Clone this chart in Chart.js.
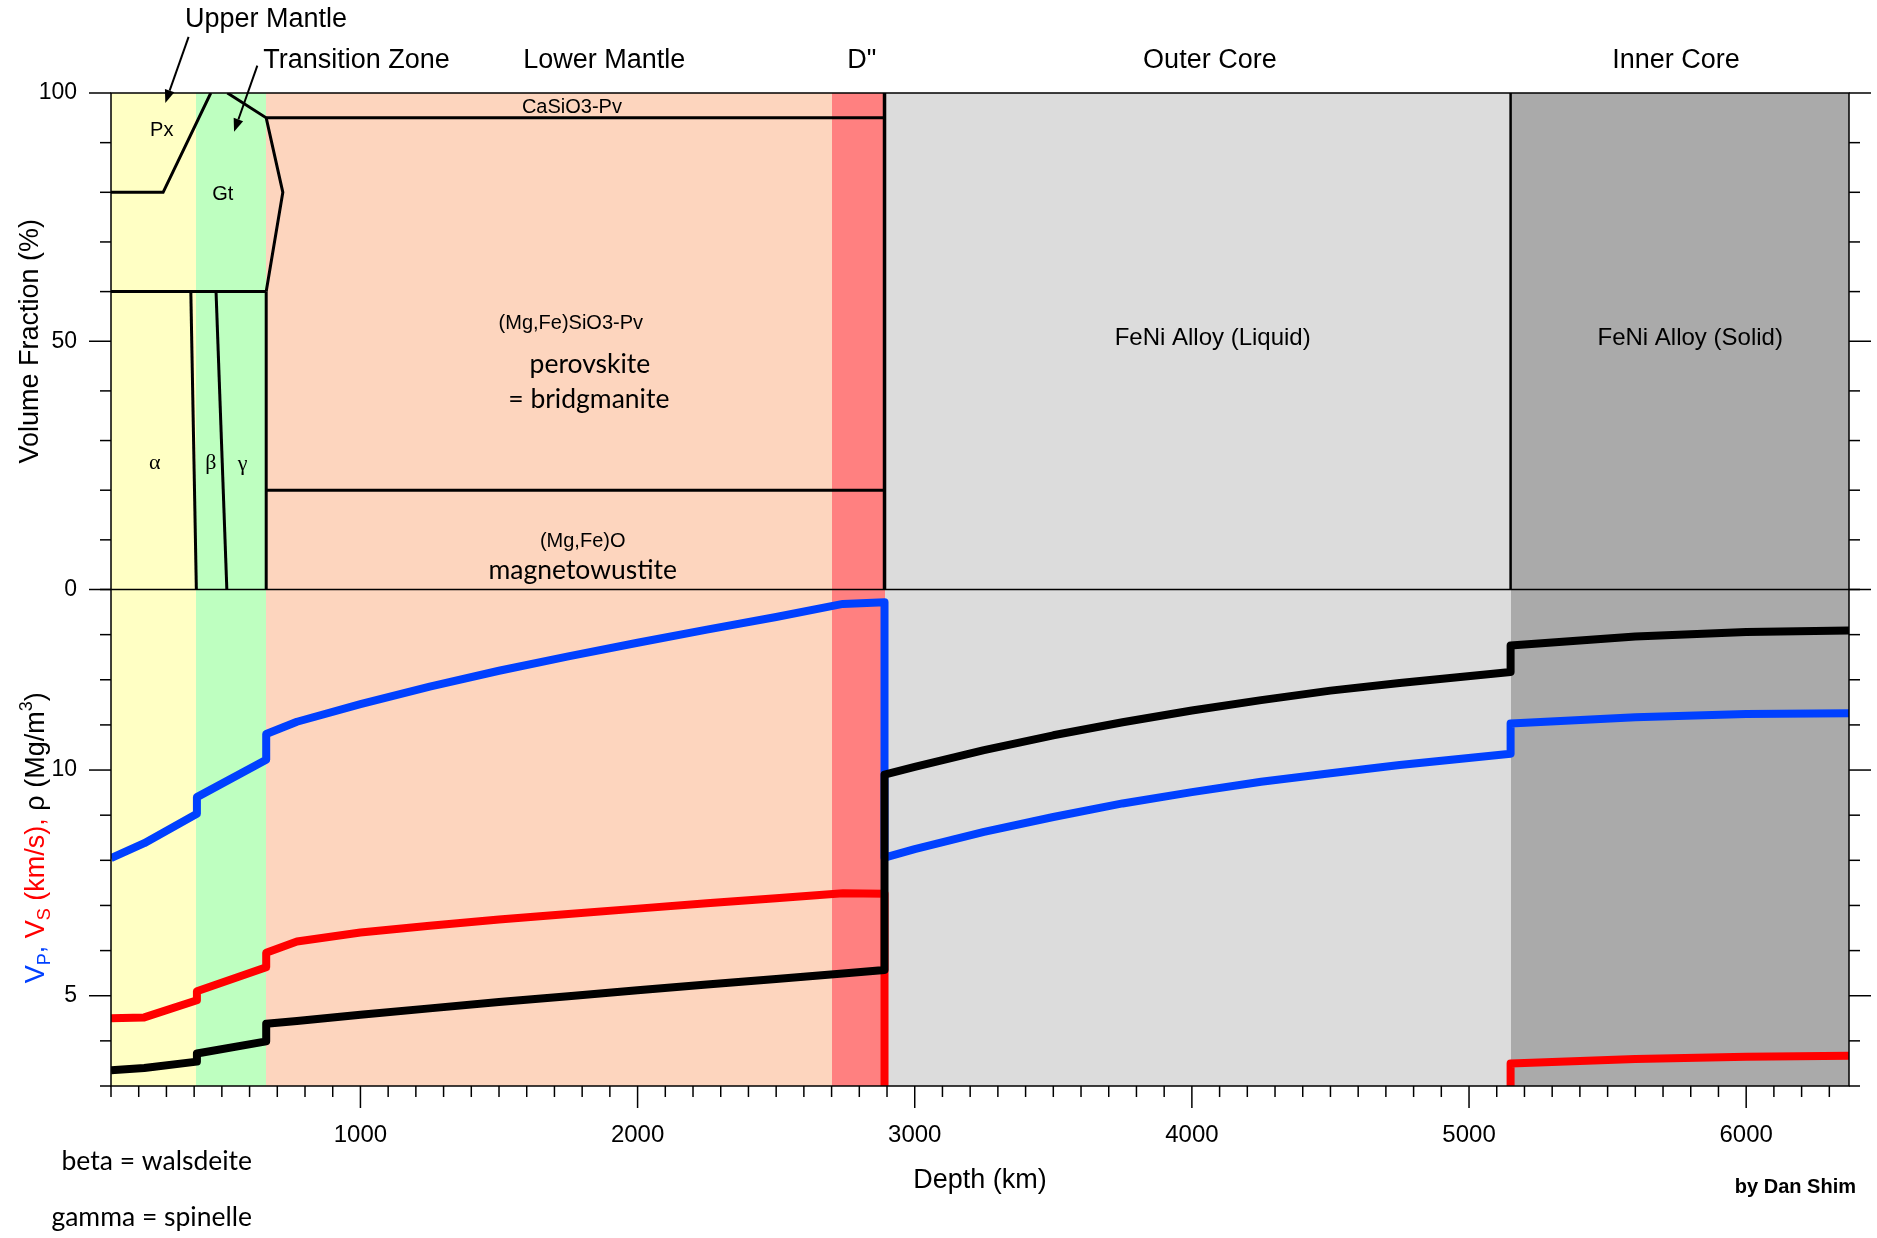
<!DOCTYPE html>
<html>
<head>
<meta charset="utf-8">
<title>Earth interior: mineralogy and seismic profile</title>
<script src="https://cdn.jsdelivr.net/npm/chart.js@4/dist/chart.umd.min.js"></script>
<style>
  html, body { margin: 0; padding: 0; background: #ffffff; }
  canvas { display: block; }
</style>
</head>
<body>
<canvas id="earth" width="1877" height="1238"></canvas>
<script>
// ---------------- data ----------------
// Seismic / density profile; repeated depths mark discontinuities.
const depthKm = [100, 220, 410, 410, 660, 660, 771, 1000, 1250, 1500,
                 1750, 2000, 2250, 2500, 2741, 2891, 2891, 3000, 3250, 3500,
                 3750, 4000, 4250, 4500, 4750, 5150, 5150, 5600, 6000, 6371];
const vpKms   = [8.05, 8.38, 9.03, 9.40, 10.23, 10.80, 11.07, 11.46, 11.85, 12.20,
                 12.52, 12.82, 13.11, 13.39, 13.68, 13.72, 8.06, 8.25, 8.63, 8.96,
                 9.26, 9.51, 9.74, 9.93, 10.11, 10.36, 11.03, 11.17, 11.24, 11.26];
const vsKms   = [4.50, 4.52, 4.90, 5.10, 5.63, 5.95, 6.20, 6.40, 6.55, 6.69,
                 6.81, 6.93, 7.05, 7.16, 7.27, 7.26, 0, 0, 0, 0,
                 0, 0, 0, 0, 0, 0, 3.50, 3.60, 3.65, 3.67];
const rhoMgm3 = [3.35, 3.40, 3.54, 3.72, 3.99, 4.38, 4.44, 4.58, 4.72, 4.86,
                 4.99, 5.12, 5.25, 5.37, 5.49, 5.57, 9.90, 10.07, 10.44, 10.77,
                 11.06, 11.32, 11.55, 11.76, 11.93, 12.17, 12.76, 12.96, 13.06, 13.09];

// Mineral phase boundaries (depth km, volume fraction %)
const pxDepth = [100, 288, 460];         const pxFrac = [80, 80, 100];
const gtDepth = [520, 660, 720, 660];    const gtFrac = [100, 95, 80, 60];
const caPvDepth = [660, 2891];           const caPvFrac = [95, 95];
const olBaseDepth = [100, 660];          const olBaseFrac = [60, 60];
const alphaBetaDepth = [388, 408];       const alphaBetaFrac = [60, 0];
const betaGammaDepth = [479, 518];       const betaGammaFrac = [60, 0];
const tzBaseDepth = [660, 660];          const tzBaseFrac = [60, 0];
const pvMwDepth = [660, 2891];           const pvMwFrac = [20, 20];
const cmbDepth = [2891, 2891];           const cmbFrac = [0, 100];
const icbDepth = [5150, 5150];           const icbFrac = [0, 100];

// Layers
const layerNames  = ['Upper Mantle', 'Transition Zone', 'Lower Mantle', 'D"', 'Outer Core', 'Inner Core'];
const layerTopKm  = [100, 405, 660, 2700, 2891, 5150];
const layerBaseKm = [405, 660, 2700, 2891, 5150, 6371];

// Axis ticks
const depthTicks = [1000, 2000, 3000, 4000, 5000, 6000];
const fractionTicks = [0, 50, 100];
const velocityTicks = [5, 10];
const depthMinorStep = 100, fractionMinorStep = 10, velocityMinorStep = 1;

// ---------------- styles ----------------
const SANS = "'Liberation Sans', Arial, Helvetica, sans-serif";
const HUMAN = "Lato, 'Open Sans', sans-serif";
const SERIF = "'Liberation Serif', 'DejaVu Serif', serif";
const style = {
  layerFill: ['#FFFFC4', '#BEFFC0', '#FDD5BE', '#FF8080', '#DCDCDC', '#AAAAAA'],
  vp: '#0040FF', vs: '#FF0000', rho: '#000000',
  curveWidth: 8, phaseWidth: 3, frameWidth: 1.5, majorTick: 22, minorTick: 11
};

// Text annotations placed in data units (depth km, volume fraction %)
const headingPos = [
  { depth: 659,  frac: 113.2 },
  { depth: 986,  frac: 105.0 },
  { depth: 1880, frac: 105.0 },
  { depth: 2809, frac: 105.0 },
  { depth: 4065, frac: 105.0 },
  { depth: 5747, frac: 105.0 }
];
const phaseLabels = [
  { text: 'Px', depth: 283, frac: 92.4, font: SANS, size: 20 },
  { text: 'Gt', depth: 503, frac: 79.5, font: SANS, size: 20 },
  { text: 'α', depth: 258, frac: 25.4, font: SERIF, size: 22 },
  { text: 'β', depth: 460, frac: 25.4, font: SERIF, size: 22 },
  { text: 'γ', depth: 575, frac: 25.2, font: SERIF, size: 22 },
  { text: 'CaSiO3-Pv', depth: 1763, frac: 97.0, font: SANS, size: 20 },
  { text: '(Mg,Fe)SiO3-Pv', depth: 1759, frac: 53.5, font: SANS, size: 20 },
  { text: 'perovskite', depth: 1828, frac: 45.3, font: HUMAN, size: 26.5 },
  { text: '= bridgmanite', depth: 1824, frac: 38.2, font: HUMAN, size: 26.5 },
  { text: '(Mg,Fe)O', depth: 1802, frac: 9.7, font: SANS, size: 20 },
  { text: 'magnetowustite', depth: 1802, frac: 3.8, font: HUMAN, size: 26.5 },
  { text: 'FeNi Alloy (Liquid)', depth: 4075, frac: 50.5, font: SANS, size: 24 },
  { text: 'FeNi Alloy (Solid)', depth: 5798, frac: 50.5, font: SANS, size: 24 }
];
const pointerArrows = [
  { from: [380, 111.3], to: [296, 98.0] },
  { from: [628, 105.5], to: [544, 92.2] }
];

// ---------------- datasets ----------------
const pairs = (xs, ys) => xs.map((x, i) => ({ x: x, y: ys[i] }));
const curve = (label, ys, color, order) => ({
  label, data: pairs(depthKm, ys), yAxisID: 'yBot', order,
  borderColor: color, borderWidth: style.curveWidth, borderJoinStyle: 'round',
  pointRadius: 0, tension: 0, fill: false
});
const boundary = (label, xs, ys, width) => ({
  label, data: pairs(xs, ys), yAxisID: 'yTop', order: 5,
  borderColor: '#000000', borderWidth: width || style.phaseWidth, borderJoinStyle: 'miter',
  pointRadius: 0, tension: 0, fill: false
});

const datasets = [
  curve('Density', rhoMgm3, style.rho, 0),
  curve('Vp', vpKms, style.vp, 1),
  curve('Vs', vsKms, style.vs, 2),
  boundary('Px', pxDepth, pxFrac),
  boundary('Gt', gtDepth, gtFrac),
  boundary('CaSiO3-Pv', caPvDepth, caPvFrac),
  boundary('Olivine base', olBaseDepth, olBaseFrac),
  boundary('alpha-beta', alphaBetaDepth, alphaBetaFrac),
  boundary('beta-gamma', betaGammaDepth, betaGammaFrac),
  boundary('660', tzBaseDepth, tzBaseFrac),
  boundary('Pv-Mw', pvMwDepth, pvMwFrac),
  boundary('CMB', cmbDepth, cmbFrac, 3.5),
  boundary('ICB', icbDepth, icbFrac, 2.5)
];

// ---------------- drawing helpers ----------------
function seg(ctx, x0, y0, x1, y1) {
  ctx.beginPath(); ctx.moveTo(x0, y0); ctx.lineTo(x1, y1); ctx.stroke();
}
function steps(min, max, step) {
  const out = [];
  for (let v = min; v <= max + 1e-9; v += step) out.push(Math.round(v * 1000) / 1000);
  return out;
}

const earthOverlay = {
  id: 'earthOverlay',
  beforeDatasetsDraw(chart) {
    const { ctx, chartArea: a, scales: { x } } = chart;
    ctx.save();
    layerTopKm.forEach((d0, i) => {
      const x0 = Math.round(x.getPixelForValue(d0));
      const x1 = Math.round(x.getPixelForValue(layerBaseKm[i]));
      ctx.fillStyle = style.layerFill[i];
      ctx.fillRect(x0, a.top, x1 - x0, a.bottom - a.top);
    });
    ctx.restore();
  },
  afterDatasetsDraw(chart) {
    const { ctx, chartArea: a, scales: { x, yTop, yBot } } = chart;
    ctx.save();

    // labels inside the phase panel
    ctx.fillStyle = '#000';
    ctx.textAlign = 'center';
    ctx.textBaseline = 'middle';
    phaseLabels.forEach(l => {
      ctx.font = l.size + 'px ' + l.font;
      ctx.fillText(l.text, x.getPixelForValue(l.depth), yTop.getPixelForValue(l.frac));
    });

    // frame and panel divider
    ctx.strokeStyle = '#000';
    ctx.lineWidth = style.frameWidth;
    ctx.strokeRect(a.left, a.top, a.right - a.left, a.bottom - a.top);
    const yMid = yTop.getPixelForValue(0);
    seg(ctx, a.left, yMid, a.right, yMid);

    // tick marks on left, right and bottom
    const yTicks = (scale, minorStep, majors) => {
      steps(scale.min, scale.max, minorStep).forEach(v => {
        const len = majors.includes(v) ? style.majorTick : style.minorTick;
        const p = scale.getPixelForValue(v);
        seg(ctx, a.left - len, p, a.left, p);
        seg(ctx, a.right, p, a.right + len, p);
      });
    };
    yTicks(yTop, fractionMinorStep, fractionTicks);
    yTicks(yBot, velocityMinorStep, velocityTicks);
    steps(x.min, x.max, depthMinorStep).forEach(v => {
      const len = depthTicks.includes(v) ? style.majorTick : style.minorTick;
      const p = x.getPixelForValue(v);
      seg(ctx, p, a.bottom, p, a.bottom + len);
    });

    // layer headings above the plot
    ctx.font = '27px ' + SANS;
    ctx.textBaseline = 'alphabetic';
    layerNames.forEach((name, i) => {
      ctx.fillText(name, x.getPixelForValue(headingPos[i].depth), yTop.getPixelForValue(headingPos[i].frac));
    });

    // pointer arrows from the headings into the panel
    ctx.lineWidth = 2;
    pointerArrows.forEach(ar => {
      const x0 = x.getPixelForValue(ar.from[0]), y0 = yTop.getPixelForValue(ar.from[1]);
      const x1 = x.getPixelForValue(ar.to[0]),   y1 = yTop.getPixelForValue(ar.to[1]);
      const ang = Math.atan2(y1 - y0, x1 - x0);
      const head = 13, half = 5;
      const bx = x1 - head * Math.cos(ang), by = y1 - head * Math.sin(ang);
      seg(ctx, x0, y0, bx, by);
      ctx.beginPath();
      ctx.moveTo(x1, y1);
      ctx.lineTo(bx + half * Math.sin(ang), by - half * Math.cos(ang));
      ctx.lineTo(bx - half * Math.sin(ang), by + half * Math.cos(ang));
      ctx.closePath();
      ctx.fill();
    });

    // multi-coloured title of the lower panel
    const parts = [
      { t: 'V', c: style.vp }, { t: 'P', c: style.vp, sub: true }, { t: ', ', c: style.vp },
      { t: 'V', c: style.vs }, { t: 'S', c: style.vs, sub: true }, { t: ' (km/s), ', c: style.vs },
      { t: 'ρ (Mg/m', c: '#000' }, { t: '3', c: '#000', sup: true }, { t: ')', c: '#000' }
    ];
    let total = 0;
    parts.forEach(p => {
      p.size = (p.sub || p.sup) ? 18 : 27;
      ctx.font = p.size + 'px ' + SANS;
      p.w = ctx.measureText(p.t).width;
      total += p.w;
    });
    ctx.translate(44, (yBot.top + yBot.bottom) / 2);
    ctx.rotate(-Math.PI / 2);
    ctx.textAlign = 'left';
    let cx = -total / 2;
    parts.forEach(p => {
      ctx.font = p.size + 'px ' + SANS;
      ctx.fillStyle = p.c;
      ctx.fillText(p.t, cx, p.sub ? 6 : (p.sup ? -12 : 0));
      cx += p.w;
    });
    ctx.setTransform(1, 0, 0, 1, 0, 0);

    // notes under the plot
    ctx.fillStyle = '#000';
    ctx.textAlign = 'right';
    ctx.textBaseline = 'middle';
    ctx.font = '26.5px ' + HUMAN;
    ctx.fillText('beta = walsdeite', 252, 1161);
    ctx.fillText('gamma = spinelle', 252, 1217);
    ctx.textBaseline = 'alphabetic';
    ctx.font = 'bold 20px ' + SANS;
    ctx.fillText('by Dan Shim', 1856, 1193);

    ctx.restore();
  }
};

// ---------------- chart ----------------
Chart.defaults.font.family = SANS;
Chart.defaults.color = '#000000';

const intLabel = v => String(v);
const yAxisBase = (min, max, ticks) => ({
  type: 'linear', position: 'left', stack: 'panels', stackWeight: 1,
  min, max,
  grid: { display: false, drawTicks: false },
  border: { display: false },
  ticks: { padding: 34, font: { size: 23 }, callback: intLabel, autoSkip: false },
  afterBuildTicks: s => { s.ticks = ticks.map(v => ({ value: v })); },
  afterFit: s => { s.width = 111; }
});

const yTopAxis = yAxisBase(0, 100, fractionTicks);
yTopAxis.title = { display: true, text: 'Volume Fraction (%)', font: { size: 27 }, padding: { top: 14, bottom: 0 } };
const yBotAxis = yAxisBase(3, 14, velocityTicks);

new Chart(document.getElementById('earth'), {
  type: 'line',
  data: { datasets },
  options: {
    responsive: false,
    animation: false,
    devicePixelRatio: 1,
    layout: { padding: { left: 0, top: 93, right: 28, bottom: 0 } },
    plugins: { legend: { display: false }, tooltip: { enabled: false } },
    scales: {
      x: {
        type: 'linear', position: 'bottom', min: 100, max: 6371,
        grid: { display: false, drawTicks: false },
        border: { display: false },
        ticks: { padding: 35, font: { size: 24 }, callback: intLabel, autoSkip: false, maxRotation: 0 },
        afterBuildTicks: s => { s.ticks = depthTicks.map(v => ({ value: v })); },
        afterFit: s => { s.height = 152; },
        title: { display: true, text: 'Depth (km)', font: { size: 27 }, padding: { top: 0, bottom: 41 } }
      },
      yBot: yBotAxis,
      yTop: yTopAxis
    }
  },
  plugins: [earthOverlay]
});
</script>
</body>
</html>
